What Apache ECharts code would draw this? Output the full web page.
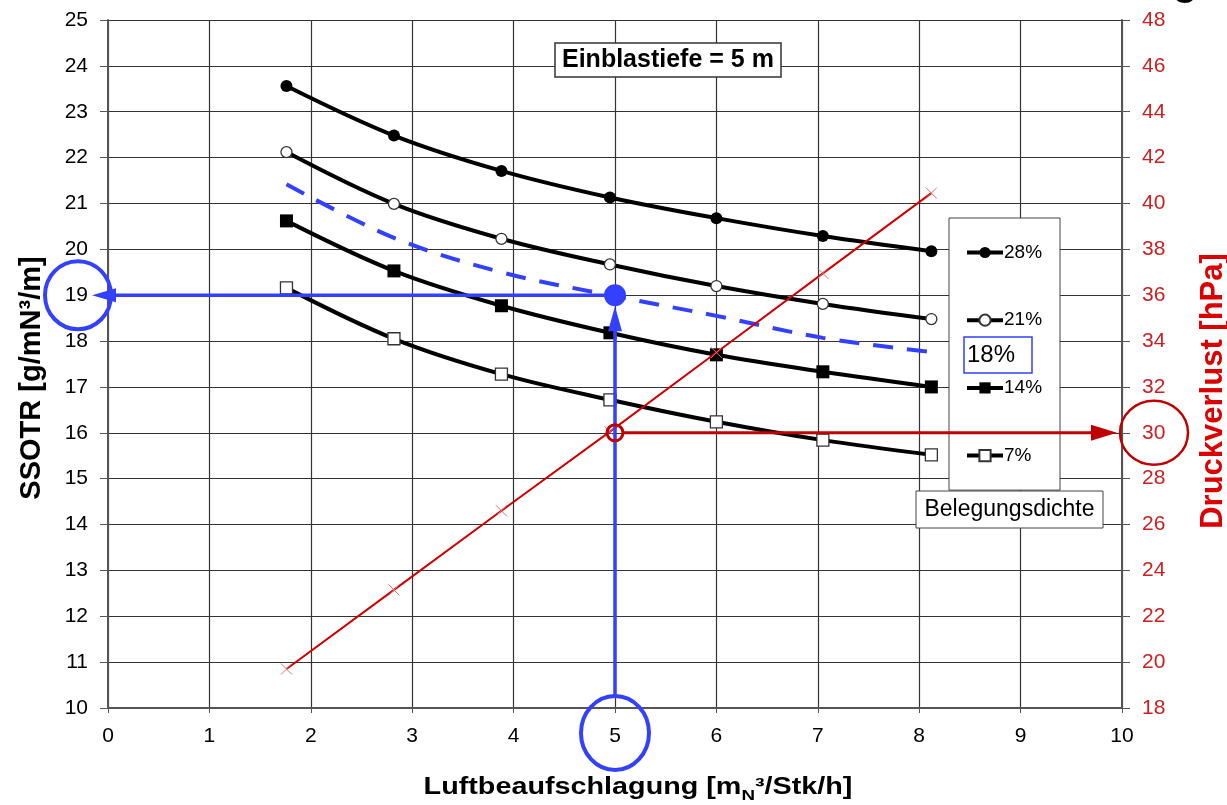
<!DOCTYPE html>
<html><head><meta charset="utf-8">
<script src="https://cdn.jsdelivr.net/npm/echarts@6/dist/echarts.min.js"></script>
<style>html,body{margin:0;padding:0;background:#fff}#c{width:1227px;height:805px}</style>
</head><body><div id="c"></div>
<script>
// Luftbeaufschlagung values of the measured points
const xVals = [1.76, 2.82, 3.88, 4.95, 6.0, 7.05, 8.12];
// SSOTR per Belegungsdichte
const s28 = [23.56, 22.48, 21.71, 21.13, 20.68, 20.29, 19.96];
const s21 = [22.12, 20.99, 20.23, 19.67, 19.20, 18.81, 18.48];
const s18 = [21.42, 20.25, 19.50, 19.00, 18.55, 18.07, 17.76];
const s14 = [20.62, 19.53, 18.77, 18.18, 17.70, 17.33, 17.00];
const s7  = [19.16, 18.05, 17.28, 16.72, 16.24, 15.84, 15.52];
// Druckverlust [hPa]
const druck = [19.7, 23.15, 26.6, 30.05, 33.5, 36.95, 40.45];
// operating point of the reading example
const opX = 5, opSSOTR = 19, opDruck = 30;
// legend names
const names = ['28%', '21%', '14%', '7%'];

const F = 'Liberation Sans, Arial, sans-serif';
const BLUE = '#3340ff', RED = '#c00000';
function pairs(ys){ return xVals.map((x,i)=>[x, ys[i]]); }

const chart = echarts.init(document.getElementById('c'));
const blackLine = (name, data, symbol, size, filled) => ({
  name, type:'line', data: pairs(data), smooth: 0.35, symbol, symbolSize: size,
  showSymbol: true, yAxisIndex: 0,
  lineStyle: {color:'#000', width:4},
  itemStyle: filled ? {color:'#000', borderColor:'#000', borderWidth:0}
                    : {color:'#fff', borderColor:'#333', borderWidth:1.3},
  emphasis: {disabled:true}, z: 3
});

chart.setOption({
  animation: false,
  backgroundColor: '#fff',
  grid: {left:108, right:105, top:20, bottom:97, containLabel:false, outerBoundsMode:'none'},
  title: {
    text: 'Einblastiefe = 5 m', left: 555, top: 43,
    padding: [4, 7, 3, 7], borderColor: '#333', borderWidth: 1.5, backgroundColor: '#fff',
    textStyle: {fontFamily: F, fontSize: 25, fontWeight: 'bold', color: '#000', lineHeight: 27}, z: 10
  },
  legend: {
    data: names, orient: 'vertical', left: 949, top: 218,
    padding: [25, 18, 25, 16], itemGap: 48.7, itemWidth: 36, itemHeight: 14,
    backgroundColor: '#fff', borderColor: '#444', borderWidth: 1,
    lineStyle: {width: 4, color: '#000'},
    textStyle: {fontFamily: F, fontSize: 19, color: '#000', padding:[0,0,0,-4]},
    selectedMode: false, z: 5
  },
  xAxis: {
    type: 'value', min: 0, max: 10, interval: 1,
    axisLine: {onZero: false, lineStyle: {color: '#555', width: 2}},
    axisTick: {show: true, inside: false, length: 5, lineStyle: {color: '#555'}},
    axisLabel: {fontFamily: F, fontSize: 21, color: '#000', margin: 18},
    splitLine: {show: true, lineStyle: {color: '#333', width: 1.2}}
  },
  yAxis: [{
    type: 'value', min: 10, max: 25, interval: 1, position: 'left',
    name: 'SSOTR [g/mN³/m]', nameLocation: 'middle', nameGap: 62, nameRotate: 90,
    nameTextStyle: {fontFamily: F, fontSize: 29, fontWeight: 'bold', color: '#000', padding: [0, 28, 0, 0]},
    axisLine: {show: true, lineStyle: {color: '#555', width: 2}},
    axisTick: {show: true, length: 8, lineStyle: {color: '#555'}},
    axisLabel: {fontFamily: F, fontSize: 21, color: '#000', margin: 20},
    splitLine: {show: true, lineStyle: {color: '#333', width: 1.2}}
  }, {
    type: 'value', min: 18, max: 48, interval: 2, position: 'right',
    name: 'Druckverlust [hPa]', nameLocation: 'middle', nameGap: 76, nameRotate: 90,
    nameTextStyle: {fontFamily: F, fontSize: 31, fontWeight: 'bold', color: '#dd0000', padding: [0, 54, 0, 0]},
    axisLine: {show: true, lineStyle: {color: '#555', width: 2}},
    axisTick: {show: true, length: 8, lineStyle: {color: '#555'}},
    axisLabel: {fontFamily: F, fontSize: 21, color: '#cc2020', margin: 20},
    splitLine: {show: false}
  }],
  series: [
    blackLine('28%', s28, 'circle', 12, true),
    blackLine('21%', s21, 'circle', 11, false),
    {
      name: '18%', type: 'line', data: pairs(s18), smooth: 0.35, showSymbol: false, symbol: 'none',
      lineStyle: {color: BLUE, width: 4, type: [20, 14]}, emphasis: {disabled: true}, z: 2
    },
    blackLine('14%', s14, 'rect', 13, true),
    blackLine('7%', s7, 'rect', 12, false),
    {
      name: 'Druckverlust', type: 'line', yAxisIndex: 1, data: pairs(druck), smooth: false,
      symbol: 'path://M0,0L10,10M10,0L0,10', symbolSize: 11,
      lineStyle: {color: '#d00000', width: 2},
      itemStyle: {color: 'none', borderColor: '#e07070', borderWidth: 1},
      emphasis: {disabled: true}, z: 4
    }
  ]
});

// Reading example annotations placed through the axes' scales
const P = chart.convertToPixel({xAxisIndex:0, yAxisIndex:0}, [opX, opSSOTR]);
const Q = chart.convertToPixel({xAxisIndex:0, yAxisIndex:1}, [opX, opDruck]);
const xL = chart.convertToPixel({xAxisIndex:0}, 0);
const xR = chart.convertToPixel({xAxisIndex:0}, 10);
const yB = chart.convertToPixel({yAxisIndex:0}, 10);

const g = [];
// x axis title (wide lettering)
g.push({type:'text', x:638, y:789, scaleX:1.25, scaleY:1, z:30, style:{
  text:'{a|Luftbeaufschlagung [m}{s|N}{a|³/Stk/h]}', align:'center', verticalAlign:'middle',
  rich:{
    a:{font:'bold 23px ' + F, fill:'#000', verticalAlign:'top', lineHeight:26},
    s:{font:'bold 15px ' + F, fill:'#000', verticalAlign:'top', lineHeight:26, padding:[12,0,0,0]}
  }
}});
// blue horizontal arrow to SSOTR axis
const tipL = xL - 16;
g.push({type:'line', shape:{x1:P[0], y1:P[1], x2:tipL+20, y2:P[1]}, style:{stroke:BLUE, lineWidth:3.5}, z:20});
g.push({type:'polygon', shape:{points:[[tipL,P[1]],[tipL+24,P[1]-7],[tipL+24,P[1]+7]]}, style:{fill:BLUE}, z:20});
// blue vertical arrow from x axis
const c5y = yB + 25;
const tipU = P[1] + 11;
g.push({type:'line', shape:{x1:P[0], y1:c5y-37, x2:P[0], y2:tipU+20}, style:{stroke:BLUE, lineWidth:3.5}, z:20});
g.push({type:'polygon', shape:{points:[[P[0],tipU],[P[0]-7,tipU+25],[P[0]+7,tipU+25]]}, style:{fill:BLUE}, z:20});
g.push({type:'circle', shape:{cx:P[0], cy:P[1], r:11}, style:{fill:BLUE}, z:21});
// blue rings around labels
g.push({type:'ellipse', shape:{cx:xL-30, cy:P[1], rx:33, ry:34}, style:{fill:'none', stroke:BLUE, lineWidth:4}, z:20});
g.push({type:'ellipse', shape:{cx:P[0], cy:c5y, rx:34, ry:37}, style:{fill:'none', stroke:BLUE, lineWidth:4}, z:20});
// red arrow to Druckverlust axis
const tipR = xR - 5;
g.push({type:'line', shape:{x1:Q[0]+8, y1:Q[1], x2:tipR-20, y2:Q[1]}, style:{stroke:RED, lineWidth:3}, z:20});
g.push({type:'polygon', shape:{points:[[tipR,Q[1]],[tipR-26,Q[1]-8],[tipR-26,Q[1]+8]]}, style:{fill:RED}, z:20});
g.push({type:'circle', shape:{cx:Q[0], cy:Q[1], r:8}, style:{fill:'none', stroke:RED, lineWidth:3}, z:20});
g.push({type:'ellipse', shape:{cx:xR+32, cy:Q[1], rx:34, ry:32}, style:{fill:'none', stroke:RED, lineWidth:2.5}, z:20});
// 18% label box and legend title
g.push({type:'rect', shape:{x:964, y:337, width:68, height:36}, style:{fill:'#fff', stroke:BLUE, lineWidth:1.5}, z:30});
g.push({type:'text', x:967, y:355, style:{text:'18%', font:'24px ' + F, fill:'#000', verticalAlign:'middle'}, z:31});
g.push({type:'rect', shape:{x:916, y:491, width:187, height:37}, style:{fill:'#fff', stroke:'#444', lineWidth:1}, z:30});
g.push({type:'text', x:1009.5, y:510, style:{text:'Belegungsdichte', font:'23px ' + F, fill:'#000', align:'center', verticalAlign:'middle'}, z:31});
// cut-off glyph at the top edge
g.push({type:'text', x:1173, y:-36, style:{text:'g', font:'bold 40px ' + F, fill:'#000'}, z:30});
chart.setOption({graphic: g});
</script>
</body></html>
